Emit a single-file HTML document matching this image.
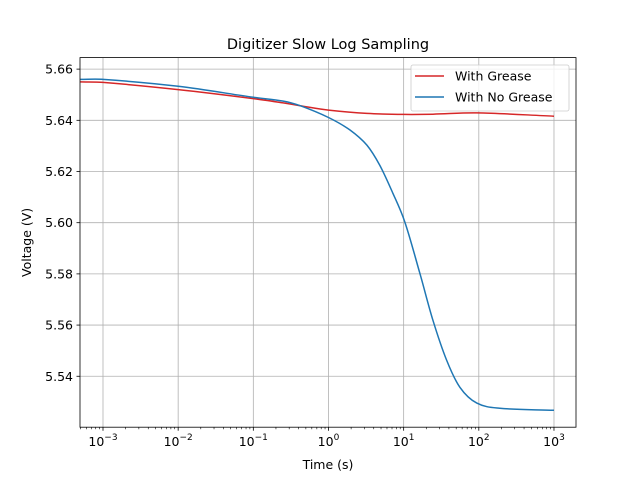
<!DOCTYPE html>
<html><head><meta charset="utf-8"><style>body{margin:0;background:#fff}svg{display:block;font-family:"DejaVu Sans","Liberation Sans",sans-serif}</style></head>
<body>
<svg id="c" width="640" height="480"></svg>
<script>
const greaseT=[0.0005,0.001,0.01,0.1,0.25,0.42,1,3.24,10,24.5,94,1000];
const greaseV=[5.655,5.6548,5.652,5.6485,5.6468,5.6457,5.644,5.6427,5.6423,5.6424,5.6429,5.6416];
const noGreaseT=[0.0005,0.001,0.01,0.1,0.25,0.42,1,1.93,3.24,4.8,7.2,10.4,16.4,24.5,37.4,56,94,190,1000];
const noGreaseV=[5.656,5.656,5.6533,5.649,5.6475,5.6457,5.6411,5.6362,5.6303,5.6225,5.6115,5.6002,5.5803,5.5619,5.5462,5.5357,5.5295,5.5275,5.5267];
const yTicks=[5.54,5.56,5.58,5.60,5.62,5.64,5.66];
const xTickExp=[-3,-2,-1,0,1,2,3];
const NS='http://www.w3.org/2000/svg',svg=document.getElementById('c');
const L=80,R=576,T=57.6,B=427.2,lx0=-3.306,lx1=3.293,y0=5.5201,y1=5.6645;
const X=t=>L+(Math.log10(t)-lx0)/(lx1-lx0)*(R-L);
const Y=v=>B-(v-y0)/(y1-y0)*(B-T);
function el(tag,a,txt){const e=document.createElementNS(NS,tag);for(const k in a)e.setAttribute(k,a[k]);if(txt!=null)e.textContent=txt;svg.appendChild(e);return e;}
yTicks.forEach(v=>{const e=el('line',{x1:L,x2:R,y1:Y(v),y2:Y(v),stroke:'#b0b0b0','stroke-width':0.8});

});
xTickExp.forEach(p=>{const e=el('line',{x1:X(10**p),x2:X(10**p),y1:T,y2:B,stroke:'#b0b0b0','stroke-width':0.8});

});
function series(ts,vs,col,name){
const P=ts.map((t,i)=>[X(t),Y(vs[i])]),n=P.length;
const m=P.map((p,i)=>{const a=P[Math.max(0,i-1)],b=P[Math.min(n-1,i+1)];return (b[1]-a[1])/(b[0]-a[0]);});
let d='M'+P[0][0].toFixed(1)+','+P[0][1].toFixed(1);
for(let i=0;i<n-1;i++){const p1=P[i],p2=P[i+1],dx=(p2[0]-p1[0])/3;
d+='C'+(p1[0]+dx).toFixed(1)+','+(p1[1]+m[i]*dx).toFixed(1)+' '+(p2[0]-dx).toFixed(1)+','+(p2[1]-m[i+1]*dx).toFixed(1)+' '+p2[0].toFixed(1)+','+p2[1].toFixed(1);}
const e=el('path',{d,fill:'none',stroke:col,'stroke-width':1.5,'stroke-linejoin':'round'});

}
series(greaseT,greaseV,'#d62728','with-grease-line');
series(noGreaseT,noGreaseV,'#1f77b4','with-no-grease-line');
const f=el('rect',{x:L,y:T,width:R-L,height:B-T,fill:'none',stroke:'#000','stroke-width':0.8});


yTicks.forEach(v=>{el('line',{x1:L-3.5,x2:L,y1:Y(v),y2:Y(v),stroke:'#000','stroke-width':0.8});
const t=el('text',{x:L-7,y:Y(v)+4.5,'text-anchor':'end','font-size':12.5},v.toFixed(2));

});
xTickExp.forEach(p=>{el('line',{x1:X(10**p),x2:X(10**p),y1:B,y2:B+3.5,stroke:'#000','stroke-width':0.8});
const t=el('text',{x:X(10**p),y:B+19,'text-anchor':'middle','font-size':12.5});


const a=document.createElementNS(NS,'tspan');a.textContent='10';t.appendChild(a);
const b=document.createElementNS(NS,'tspan');b.setAttribute('dy','-6');b.setAttribute('font-size','9');b.textContent=p<0?'\u2212'+(-p):String(p);t.appendChild(b);});
for(let p=-4;p<=3;p++)for(let mm=2;mm<10;mm++){const t=mm*10**p,x=X(t);if(x<L||x>R)continue;
el('line',{x1:x,x2:x,y1:B,y2:B+2,stroke:'#000','stroke-width':0.6});}
const tt=el('text',{x:(L+R)/2,y:49,'text-anchor':'middle','font-size':14.5},'Digitizer Slow Log Sampling');

const xt=el('text',{x:(L+R)/2,y:469,'text-anchor':'middle','font-size':12.5},'Time (s)');

const yt=el('text',{x:31,y:(T+B)/2,'text-anchor':'middle','font-size':12.5,transform:'rotate(-90 31 '+(T+B)/2+')'},'Voltage (V)');

const lg=el('rect',{x:411,y:65,width:158,height:46,rx:2,fill:'#fff','fill-opacity':0.8,stroke:'#ccc','stroke-width':0.8});

[['With Grease','#d62728',76],['With No Grease','#1f77b4',97]].forEach(([n,c,y])=>{
el('line',{x1:415,x2:444,y1:y,y2:y,stroke:c,'stroke-width':1.5});
const t=el('text',{x:455,y:y+4.5,'font-size':12.5},n);

});
</script>
</body></html>
